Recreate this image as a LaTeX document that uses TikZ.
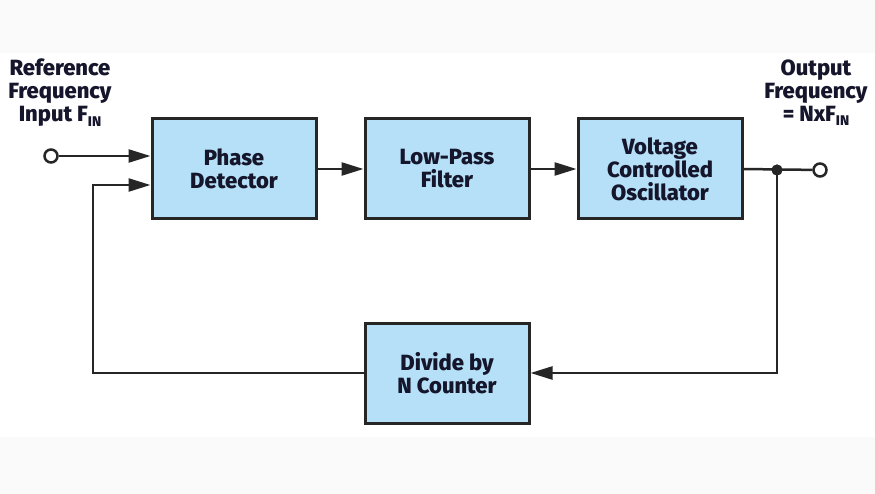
\documentclass[tikz,border=0pt]{standalone}
\usepackage{fontspec}
\setmainfont{Fira Sans}[BoldFont={Fira Sans ExtraBold}]
\usetikzlibrary{arrows.meta}
\definecolor{bgc}{HTML}{FAFAFA}
\definecolor{boxfill}{HTML}{B5E0F7}
\definecolor{linec}{HTML}{262626}
\definecolor{txtc}{HTML}{15162B}
\newcommand{\sbIN}{\raisebox{-0.35ex}{\fontsize{14}{14}\selectfont IN}}
\tikzset{
  blk/.style={draw=linec, line width=3pt, fill=boxfill, minimum width=164pt, minimum height=100pt,
    inner sep=0pt, align=center, text=txtc, font=\fontsize{22}{23}\selectfont\bfseries},
  lbl/.style={align=center, text=txtc, font=\fontsize{22}{23}\selectfont\bfseries, inner sep=0pt},
  wire/.style={draw=linec, line width=2.5pt},
  arr/.style={wire, -{Triangle[length=22pt,width=13pt]}},
  term/.style={circle, draw=linec, line width=2.5pt, fill=white, minimum size=13pt, inner sep=0pt},
  tapdot/.style={circle, fill=linec, minimum size=11pt, inner sep=0pt}
}
\begin{document}
\begin{tikzpicture}[x=1pt,y=-1pt]
\useasboundingbox (0,0) rectangle (875,494);
\fill[bgc] (0,0) rectangle (875,494);
\fill[white] (0,53) rectangle (875,437);

\node[blk] (pd) at (234,169) {Phase\\Detector};
\node[blk] (lpf) at (447,169) {Low-Pass\\Filter};
\node[blk] (vco) at (660,169) {Voltage\\Controlled\\Oscillator};
\node[blk] (div) at (447,373) {Divide by\\N Counter};

\node[lbl] (reflbl) at (60,93) {Reference\\Frequency\\Input F\sbIN};
\node[lbl] (outlbl) at (816,93) {Output\\Frequency\\= NxF\sbIN};

\node[term] (in) at (51,156) {};
\node[term] (out) at (820,170) {};
\node[tapdot] (tap) at (777,170) {};

\coordinate (pdin) at (pd.west |- in);
\coordinate (pdfb) at ([yshift=-16pt]pd.west);
\coordinate (fbx) at (93,0);

\draw[arr] (in) -- (pdin);
\draw[arr] (pd) -- (lpf);
\draw[arr] (lpf) -- (vco);
\draw[wire] (vco.east) -- (out);
\draw[arr] (tap.center) |- (div.east);
\draw[arr] (div.west) -| (fbx |- pdfb) -- (pdfb);
\node[tapdot] at (tap) {};
\end{tikzpicture}
\end{document}
